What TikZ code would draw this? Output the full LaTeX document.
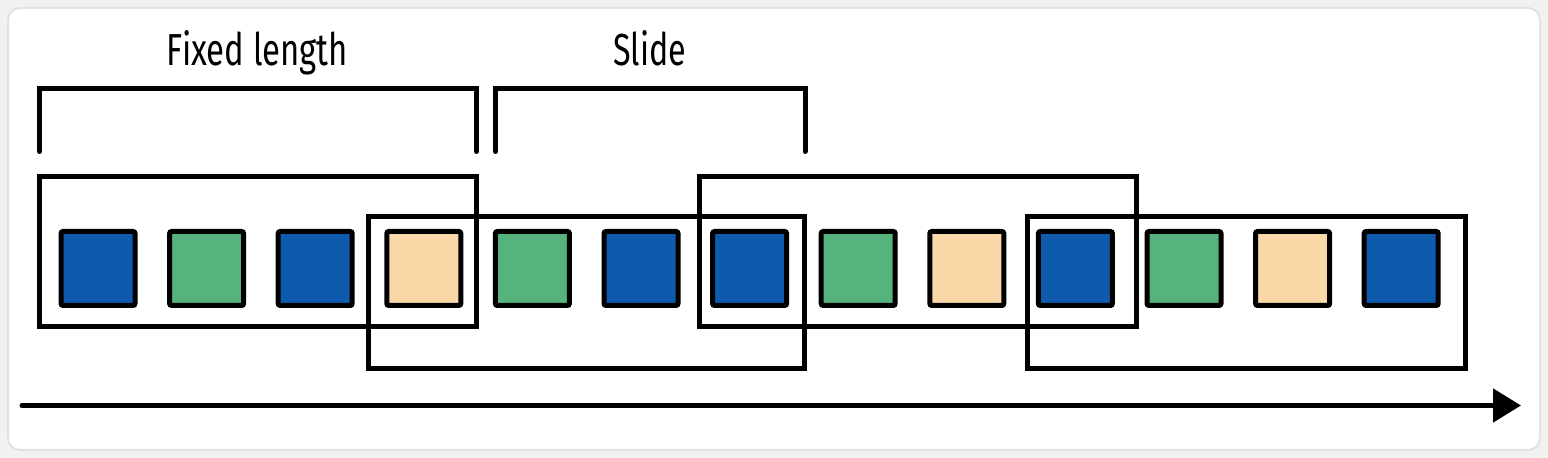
\documentclass[tikz,border=0pt]{standalone}
\usepackage{fontspec}
\setmainfont{Fira Sans}
\usetikzlibrary{arrows.meta}
\definecolor{cblue}{HTML}{0E5AAD}
\definecolor{cgreen}{HTML}{57B37D}
\definecolor{cpeach}{HTML}{FAD8A8}
\definecolor{bgout}{HTML}{F1F1F1}
\definecolor{cardedge}{HTML}{E2E2E2}
\tikzset{
  cell/.style={draw=black, line width=2.5pt, minimum width=37pt, minimum height=37pt, inner sep=0pt, rounded corners=1pt},
  win/.style={draw=black, line width=2.5pt, line join=miter},
  brack/.style={draw=black, line width=2.5pt, line cap=round, line join=miter},
  lbl/.style={anchor=base, inner sep=0pt},
  timeline/.style={draw=black, line width=2.5pt, line cap=round, -{Triangle[length=14pt,width=16.5pt]}}
}
\begin{document}
\begin{tikzpicture}[x=0.5pt,y=-0.5pt]
\useasboundingbox (0,0) rectangle (1548,458);
\fill[bgout] (0,0) rectangle (1548,458);
\draw[cardedge, fill=white, line width=1pt, rounded corners=6pt] (8,8) rectangle (1540,450);

% labels
\node[lbl] (t1) at (257.5,66) {\resizebox{90.5pt}{17.5pt}{Fixed length}};
\node[lbl] (t2) at (649.5,66) {\resizebox{36.5pt}{17.5pt}{Slide}};

% brackets
\draw[brack] (39.5,151.5) -- (39.5,88.5) -- (476.5,88.5) -- (476.5,151.5);
\draw[brack] (495.5,151.5) -- (495.5,88.5) -- (805,88.5) -- (805,151.5);

% cells
\foreach \c [count=\i from 0] in {cblue,cgreen,cblue,cpeach,cgreen,cblue,cblue,cgreen,cpeach,cblue,cgreen,cpeach,cblue}{
  \node[cell, fill=\c] (s\i) at ({98+108.6*\i},268.5) {};
}

% windows
\draw[win] (39.5,176.5) rectangle (476.5,326.5);
\draw[win] (368.5,216.5) rectangle (804,368.5);
\draw[win] (699.5,176.5) rectangle (1136,326.5);
\draw[win] (1027.5,216.5) rectangle (1465.5,368.5);

% time arrow
\coordinate (a0) at (22,405.5);
\coordinate (a1) at (1521,405.5);
\draw[timeline] (a0) -- (a1);
\end{tikzpicture}
\end{document}
